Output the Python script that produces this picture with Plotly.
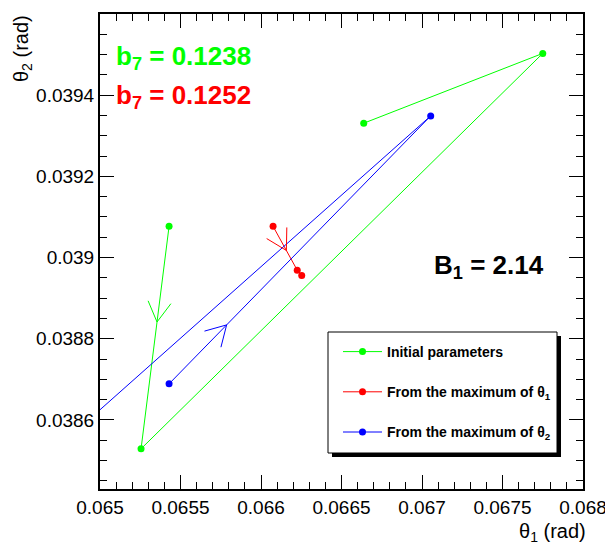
import math
import plotly.graph_objects as go

# ---- data ----
green_x = [0.065429, 0.065255, 0.067750, 0.066638]
green_y = [0.039077, 0.038529, 0.039503, 0.039331]
red_x = [0.066075, 0.066225, 0.066253]
red_y = [0.039077, 0.038969, 0.038956]
blue_x = [0.065429, 0.067054, 0.064500]
blue_y = [0.038689, 0.039349, 0.038449]

series_names = ["Initial parameters",
                "From the maximum of θ<sub>1</sub>",
                "From the maximum of θ<sub>2</sub>"]
series_colors = ["#00ff00", "#ff0000", "#0000ff"]
arrow_fraction = [0.43, 0.55, 0.22]

x_range = [0.065, 0.068]
y_range = [0.03843, 0.0396]
x_tickvals = [0.065, 0.0655, 0.066, 0.0665, 0.067, 0.0675, 0.068]
x_ticktext = ["0.065", "0.0655", "0.066", "0.0665", "0.067", "0.0675", "0.068"]
y_tickvals = [0.0386, 0.0388, 0.039, 0.0392, 0.0394, 0.0396]
y_ticktext = ["0.0386", "0.0388", "0.039", "0.0392", "0.0394", "0.0396"]

# ---- layout geometry (page body has an 8px margin) ----
BODY = 8
W, H = 613 - BODY, 546 - BODY
PL, PR, PT, PB = 100, 583, 14, 489        # plot frame in window pixels
ML, MT = PL - BODY, PT - BODY
MR, MB = (W + BODY) - PR, (H + BODY) - PB
PW = PR - PL
PH = PB - PT
sx = PW / (x_range[1] - x_range[0])   # px per unit
sy = PH / (y_range[1] - y_range[0])


def px2paper_x(px):
    return (px - PL) / PW


def px2paper_y(py):
    return (PB - py) / PH


FONT = "Liberation Sans, Arial, Helvetica, sans-serif"

fig = go.Figure()


def arrow_head(xs, ys, frac, length=23.0, half_angle=30.0):
    # tip placed along first segment; arms computed in pixel space
    x0, y0, x1, y1 = xs[0], ys[0], xs[1], ys[1]
    tx = x0 + frac * (x1 - x0)
    ty = y0 + frac * (y1 - y0)
    dxp = (x1 - x0) * sx
    dyp = (y1 - y0) * sy
    n = math.hypot(dxp, dyp)
    bx, by = -dxp / n, -dyp / n
    pts = []
    for a in (half_angle, -half_angle):
        r = math.radians(a)
        rx = bx * math.cos(r) - by * math.sin(r)
        ry = bx * math.sin(r) + by * math.cos(r)
        pts.append((tx + rx * length / sx, ty + ry * length / sy))
    return [pts[0][0], tx, pts[1][0]], [pts[0][1], ty, pts[1][1]]


all_x = [green_x, red_x, blue_x]
all_y = [green_y, red_y, blue_y]
for i in range(3):
    fig.add_trace(go.Scatter(
        x=all_x[i], y=all_y[i], mode="lines+markers",
        name=series_names[i], legendgroup=f"g{i}",
        line=dict(color=series_colors[i], width=1),
        marker=dict(color=series_colors[i], size=7),
    ))
for i in range(3):
    ax_, ay_ = arrow_head(all_x[i], all_y[i], arrow_fraction[i])
    fig.add_trace(go.Scatter(
        x=ax_, y=ay_, mode="lines", showlegend=False, hoverinfo="skip",
        line=dict(color=series_colors[i], width=1),
    ))

axis_common = dict(
    showgrid=False, zeroline=False, showline=True, linecolor="black",
    linewidth=2, mirror="ticks", ticks="inside", ticklen=14, tickwidth=1,
    tickcolor="black", tickfont=dict(family=FONT, size=19, color="black"),
)
fig.update_xaxes(range=x_range, tickvals=x_tickvals, ticktext=x_ticktext,
                 minor=dict(dtick=0.0001, ticklen=7, tickwidth=1,
                            tickcolor="black", ticks="inside"),
                 **axis_common)
fig.update_yaxes(range=y_range, tickvals=y_tickvals, ticktext=y_ticktext,
                 minor=dict(dtick=0.00005, ticklen=7, tickwidth=1,
                            tickcolor="black", ticks="inside"),
                 ticklabelstandoff=0,
                 **axis_common)

annotations = [
    dict(text="θ<sub>1</sub> (rad)", xref="paper", yref="paper",
         x=px2paper_x(588), y=px2paper_y(532), xanchor="right",
         yanchor="middle", showarrow=False,
         font=dict(family=FONT, size=20, color="black")),
    dict(text="θ<sub>2</sub> (rad)", xref="paper", yref="paper",
         x=px2paper_x(22), y=px2paper_y(49), xanchor="center",
         yanchor="middle", textangle=-90,
         showarrow=False, font=dict(family=FONT, size=20, color="black")),
    dict(text="<b>b<sub>7</sub> = 0.1238</b>", xref="paper", yref="paper",
         x=px2paper_x(114), y=px2paper_y(57), xanchor="left",
         yanchor="middle", showarrow=False,
         font=dict(family=FONT, size=26, color="#00ff00")),
    dict(text="<b>b<sub>7</sub> = 0.1252</b>", xref="paper", yref="paper",
         x=px2paper_x(114), y=px2paper_y(96), xanchor="left",
         yanchor="middle", showarrow=False,
         font=dict(family=FONT, size=26, color="#ff0000")),
    dict(text="<b>B<sub>1</sub> = 2.14</b>", xref="paper", yref="paper",
         x=px2paper_x(546), y=px2paper_y(266), xanchor="right",
         yanchor="middle", showarrow=False,
         font=dict(family=FONT, size=26, color="black")),
]

# legend frame + shadow (ROOT style), legend entries on top
box = (328, 332, 557, 453)
shadow = 4
shapes = [
    dict(type="rect", xref="paper", yref="paper",
         x0=px2paper_x(box[0] + shadow), x1=px2paper_x(box[2] + shadow),
         y0=px2paper_y(box[3] + shadow), y1=px2paper_y(box[1] + shadow),
         fillcolor="black", line=dict(width=0), layer="above"),
    dict(type="rect", xref="paper", yref="paper",
         x0=px2paper_x(box[0]), x1=px2paper_x(box[2]),
         y0=px2paper_y(box[3]), y1=px2paper_y(box[1]),
         fillcolor="white", line=dict(color="black", width=1), layer="above"),
]

fig.update_layout(
    width=W, height=H,
    margin=dict(l=ML, r=MR, t=MT, b=MB, autoexpand=False),
    paper_bgcolor="white", plot_bgcolor="white",
    annotations=annotations,
    shapes=shapes,
    legend=dict(x=px2paper_x(338), y=px2paper_y(336), xanchor="left",
                yanchor="top", bgcolor="rgba(0,0,0,0)", borderwidth=0,
                tracegroupgap=19, itemwidth=39,
                font=dict(family=FONT, size=14, color="black", weight="bold")),
    showlegend=True,
)

fig.write_html("out.html")
